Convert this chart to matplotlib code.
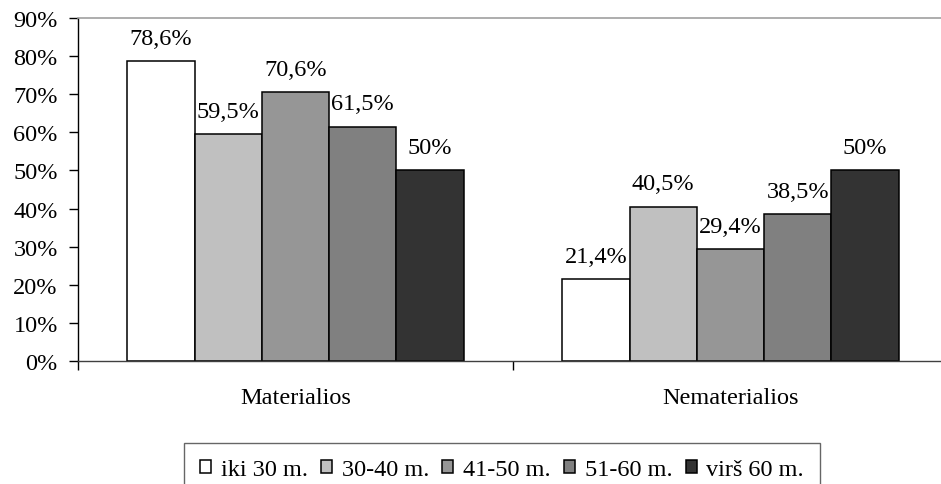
import matplotlib
matplotlib.use("Agg")
import matplotlib.pyplot as plt
from matplotlib.ticker import FixedLocator, FuncFormatter

plt.rcParams['font.family'] = ['Liberation Serif', 'DejaVu Serif']

categories = ["Materialios", "Nematerialios"]
groups = ["iki 30 m.", "30-40 m.", "41-50 m.", "51-60 m.", "virš 60 m."]
values = {
    "iki 30 m.": [78.6, 21.4],
    "30-40 m.": [59.5, 40.5],
    "41-50 m.": [70.6, 29.4],
    "51-60 m.": [61.5, 38.5],
    "virš 60 m.": [50, 50],
}
value_labels = {
    "iki 30 m.": ["78,6%", "21,4%"],
    "30-40 m.": ["59,5%", "40,5%"],
    "41-50 m.": ["70,6%", "29,4%"],
    "51-60 m.": ["61,5%", "38,5%"],
    "virš 60 m.": ["50%", "50%"],
}
colors = ["#FFFFFF", "#C0C0C0", "#969696", "#808080", "#333333"]
y_ticks = [0, 10, 20, 30, 40, 50, 60, 70, 80, 90]

FS = 17.5

fig = plt.figure(figsize=(9.41, 4.85), dpi=100)
ax = fig.add_axes([78 / 941, 1 - 362 / 485, 870 / 941, (362 - 19) / 485])

bar_w = 0.1545
n = len(groups)
for i, g in enumerate(groups):
    xs = [c + (i - (n - 1) / 2) * bar_w for c in range(len(categories))]
    bars = ax.bar(xs, values[g], width=bar_w, color=colors[i],
                  edgecolor="black", linewidth=1.1, label=g, zorder=2)
    for b, lab in zip(bars, value_labels[g]):
        ax.annotate(lab, (b.get_x() + b.get_width() / 2, b.get_height()),
                    xytext=(0, 12.5), textcoords="offset points",
                    ha="center", va="baseline", fontsize=FS)

ax.set_xlim(-0.5, 1.5)
ax.set_ylim(0, 90)

ax.yaxis.set_major_locator(FixedLocator(y_ticks))
ax.yaxis.set_major_formatter(FuncFormatter(lambda v, p: f"{int(v)}%"))
ax.tick_params(axis="y", direction="out", length=6.5, width=1, pad=8,
               labelsize=FS)

ax.xaxis.set_major_locator(FixedLocator([-0.5, 0.5, 1.5]))
ax.xaxis.set_minor_locator(FixedLocator([0, 1]))
ax.set_xticklabels([], minor=False)
ax.set_xticklabels(categories, minor=True)
ax.tick_params(axis="x", which="major", direction="out", length=6.5, width=1)
ax.tick_params(axis="x", which="minor", length=0, pad=19, labelsize=FS)

ax.spines["top"].set_color("#A0A0A0")
ax.spines["top"].set_linewidth(1.2)
ax.spines["right"].set_visible(False)
ax.spines["left"].set_linewidth(1)
ax.spines["bottom"].set_linewidth(1)
ax.spines["bottom"].set_color("#404040")

leg = fig.legend(loc="upper center", bbox_to_anchor=(502 / 941, 1 - 444 / 485),
                 ncol=5, fontsize=FS, frameon=True, fancybox=False,
                 edgecolor="#404040", handlelength=0.45, handleheight=0.45,
                 handletextpad=0.4, columnspacing=0.55, borderpad=0.65,
                 borderaxespad=0)
leg.get_frame().set_linewidth(1)

fig.savefig("out.png", dpi=100)
